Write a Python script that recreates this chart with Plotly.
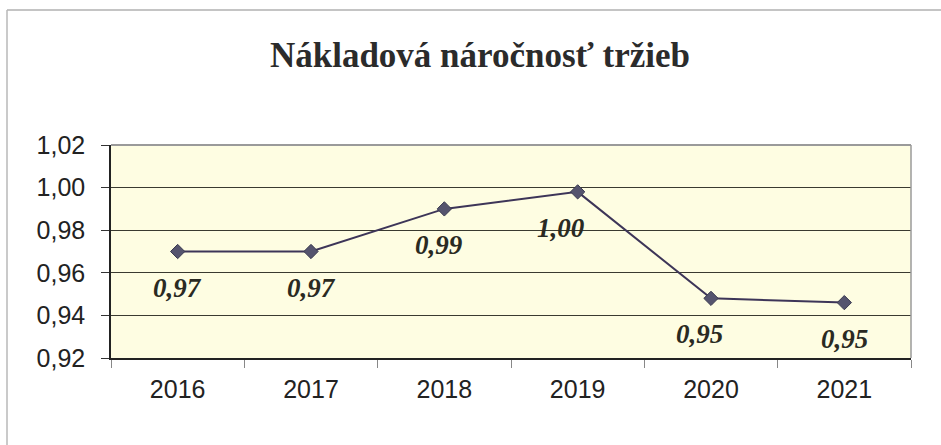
import plotly.graph_objects as go

years = ["2016", "2017", "2018", "2019", "2020", "2021"]
values = [0.970, 0.970, 0.990, 0.998, 0.948, 0.946]
labels = ["0,97", "0,97", "0,99", "1,00", "0,95", "0,95"]
label_xshift = [0, 0, -5, -17, -12, 0]
ytick_vals = [0.92, 0.94, 0.96, 0.98, 1.00, 1.02]
ytick_text = ["0,92", "0,94", "0,96", "0,98", "1,00", "1,02"]

W, H = 941, 445
L, R, T, B = 111, 30, 145, 87
pw, ph = W - L - R, H - T - B

fig = go.Figure()
fig.add_trace(go.Scatter(
    x=years, y=values, mode="lines+markers",
    line=dict(color="#3d3558", width=2),
    marker=dict(symbol="diamond", size=11, color="#55546e",
                line=dict(color="#3a3a50", width=1)),
    hoverinfo="skip", showlegend=False,
))

for i, (v, t) in enumerate(zip(values, labels)):
    fig.add_annotation(
        x=i, y=v, text="<b><i>" + t + "</i></b>", showarrow=False,
        xshift=label_xshift[i], yshift=-36,
        font=dict(family="Liberation Serif", size=27, color="#2a2a22"),
        xanchor="center", yanchor="middle",
    )

def px_x(x):
    return (x - L) / pw

def px_y(y):
    return (H - B - y) / ph

shapes = [
    dict(type="line", xref="paper", yref="paper", x0=0, x1=1, y0=1, y1=1,
         line=dict(color="#9a9a9a", width=2)),
    dict(type="line", xref="paper", yref="paper", x0=1, x1=1, y0=0, y1=1,
         line=dict(color="#9a9a9a", width=1.5)),
    dict(type="line", xref="paper", yref="paper",
         x0=px_x(7), x1=px_x(941), y0=px_y(10), y1=px_y(10),
         line=dict(color="#b0b0b0", width=1.5)),
    dict(type="line", xref="paper", yref="paper",
         x0=px_x(7), x1=px_x(7), y0=px_y(10), y1=px_y(445),
         line=dict(color="#b8b8b8", width=1.5)),
]

fig.update_layout(
    width=W, height=H,
    margin=dict(l=L, r=R, t=T, b=B, pad=0),
    paper_bgcolor="white",
    plot_bgcolor="#fefde2",
    title=dict(
        text="<b>Nákladová náročnosť tržieb</b>",
        font=dict(family="Liberation Serif", size=35, color="#2b2b2b"),
        x=480 / W, xanchor="center", xref="container",
        y=1 - 55 / H, yanchor="middle", yref="container",
    ),
    shapes=shapes,
    xaxis=dict(
        type="category", range=[-0.5, 5.5],
        showgrid=False, showline=True, linecolor="#222", linewidth=1.5,
        ticks="outside", tickson="boundaries", ticklen=8, tickcolor="#888",
        tickfont=dict(family="Liberation Sans", size=25, color="#222"),
        ticklabelstandoff=8,
        zeroline=False,
    ),
    yaxis=dict(
        range=[0.92, 1.02], tickvals=ytick_vals, ticktext=ytick_text,
        showgrid=True, gridcolor="#3a3a30", gridwidth=1,
        showline=True, linecolor="#222", linewidth=1.5,
        ticks="outside", ticklen=8, tickcolor="#333",
        tickfont=dict(family="Liberation Sans", size=25, color="#222"),
        ticklabelstandoff=11,
        zeroline=False,
    ),
)

fig.write_html("out.html", config={"displayModeBar": False},
               post_script="document.body.style.margin='0';")
